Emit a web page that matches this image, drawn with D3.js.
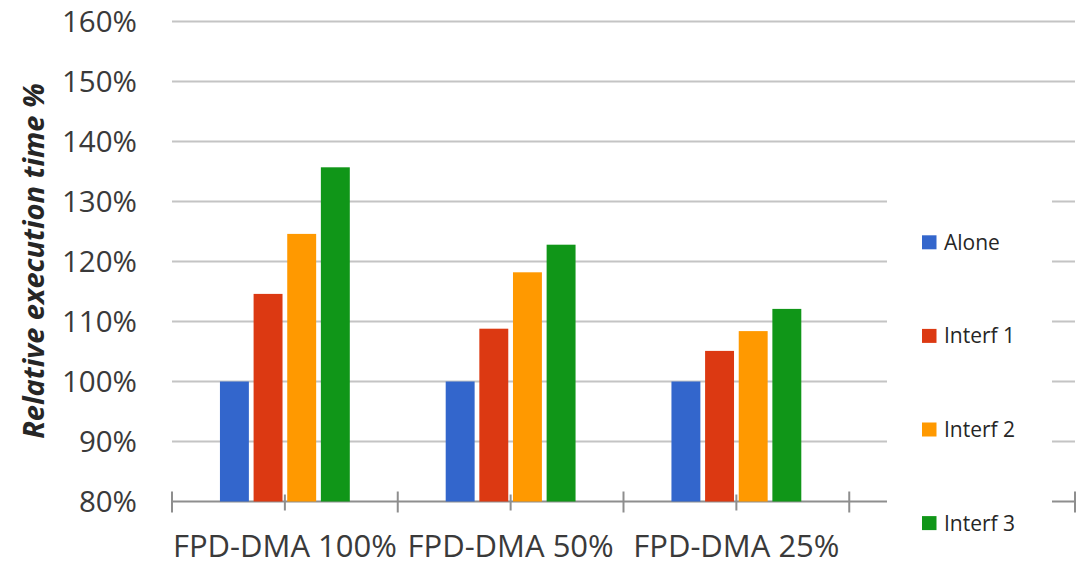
<!DOCTYPE html>
<html>
<head>
<meta charset="utf-8">
<script src="https://cdn.jsdelivr.net/npm/d3@7"></script>
<style>
  html, body { margin: 0; padding: 0; background: #ffffff; }
  svg { display: block; font-family: "Open Sans", "Noto Sans", sans-serif; }
</style>
</head>
<body>
<svg id="chart" width="1084" height="565"></svg>
<script>
// Category slots along the x axis (the last slot is left empty, under the legend)
const categories = ["FPD-DMA 100%", "FPD-DMA 50%", "FPD-DMA 25%", ""];
const seriesNames = ["Alone", "Interf 1", "Interf 2", "Interf 3"];
const seriesColors = ["#3366cc", "#dc3912", "#ff9900", "#109618"];
// Relative execution time per series, one value per category
const alone  = [1.000, 1.000, 1.000];
const interf1 = [1.146, 1.088, 1.051];
const interf2 = [1.246, 1.182, 1.084];
const interf3 = [1.357, 1.228, 1.121];
const yTicks = [0.8, 0.9, 1.0, 1.1, 1.2, 1.3, 1.4, 1.5, 1.6];

const seriesValues = [alone, interf1, interf2, interf3];

const svg = d3.select("#chart");
const plotLeft = 172, plotRight = 1075, plotTop = 21.5, plotBottom = 501.5;

const x0 = d3.scaleBand().domain(categories).range([plotLeft, plotRight]).paddingInner(0).paddingOuter(0);
const bw = x0.bandwidth();
const x1 = d3.scaleBand().domain(seriesNames)
  .range([bw * 0.2124, bw * 0.7876]).paddingInner(0.14).paddingOuter(0);
const y = d3.scaleLinear().domain([0.8, 1.6]).range([plotBottom, plotTop]);
const color = d3.scaleOrdinal().domain(seriesNames).range(seriesColors);

// Horizontal gridlines
svg.append("g")
  .selectAll("line")
  .data(yTicks.filter(t => t > 0.8))
  .join("line")
  .attr("x1", plotLeft).attr("x2", plotRight)
  .attr("y1", d => y(d)).attr("y2", d => y(d))
  .attr("stroke", "#c4c4c4").attr("stroke-width", 2);

// Y tick labels
svg.append("g")
  .selectAll("text")
  .data(yTicks)
  .join("text")
  .attr("x", 137)
  .attr("y", d => y(d))
  .attr("dy", "0.36em")
  .attr("text-anchor", "end")
  .attr("font-size", 29.5)
  .attr("fill", "#3a3a3a")
  .text(d3.format(".0%"));

// Category axis: baseline, boundary ticks and centre ticks
const axis = svg.append("g");
axis.append("line")
  .attr("x1", plotLeft).attr("x2", plotRight)
  .attr("y1", y(0.8)).attr("y2", y(0.8))
  .attr("stroke", "#8e8e8e").attr("stroke-width", 2);
const boundaries = categories.map(c => x0(c)).concat([plotRight]);
axis.selectAll("line.major")
  .data(boundaries)
  .join("line").attr("class", "major")
  .attr("x1", d => d).attr("x2", d => d)
  .attr("y1", y(0.8) - 10).attr("y2", y(0.8) + 11)
  .attr("stroke", "#8e8e8e").attr("stroke-width", 2);
axis.selectAll("line.minor")
  .data(categories)
  .join("line").attr("class", "minor")
  .attr("x1", d => x0(d) + bw / 2).attr("x2", d => x0(d) + bw / 2)
  .attr("y1", y(0.8) - 7).attr("y2", y(0.8) + 9)
  .attr("stroke", "#8e8e8e").attr("stroke-width", 2);

// Bars
const groups = svg.append("g")
  .selectAll("g")
  .data(categories.slice(0, 3))
  .join("g")
  .attr("transform", d => `translate(${x0(d)},0)`);
groups.selectAll("rect")
  .data((d, i) => seriesNames.map((s, j) => ({ s, v: seriesValues[j][i] })))
  .join("rect")
  .attr("x", d => x1(d.s))
  .attr("width", x1.bandwidth())
  .attr("y", d => y(d.v))
  .attr("height", d => y(0.8) - y(d.v))
  .attr("fill", d => color(d.s));

// Category labels
svg.append("g")
  .selectAll("text")
  .data(categories)
  .join("text")
  .attr("x", d => x0(d) + bw / 2)
  .attr("y", 557)
  .attr("text-anchor", "middle")
  .attr("font-size", 31)
  .attr("fill", "#3a3a3a")
  .text(d => d);

// Y axis title
svg.append("text")
  .attr("transform", "translate(44,261) rotate(-90)")
  .attr("text-anchor", "middle")
  .attr("font-size", 29)
  .attr("font-weight", "bold")
  .attr("font-style", "italic")
  .attr("fill", "#262626")
  .text("Relative execution time %");

// Legend, on a white panel over the right-hand part of the plot
const legend = svg.append("g");
legend.append("rect")
  .attr("x", 887).attr("y", 170).attr("width", 165).attr("height", 395)
  .attr("fill", "#ffffff");
const legendItems = legend.selectAll("g")
  .data(seriesNames)
  .join("g")
  .attr("transform", (d, i) => `translate(922,${242.3 + i * 93.6})`);
legendItems.append("rect")
  .attr("x", 0).attr("y", -7).attr("width", 14.5).attr("height", 14)
  .attr("fill", d => color(d));
legendItems.append("text")
  .attr("x", 22).attr("y", 0).attr("dy", "0.36em")
  .attr("font-size", 21)
  .attr("fill", "#262626")
  .text(d => d);
</script>
</body>
</html>
